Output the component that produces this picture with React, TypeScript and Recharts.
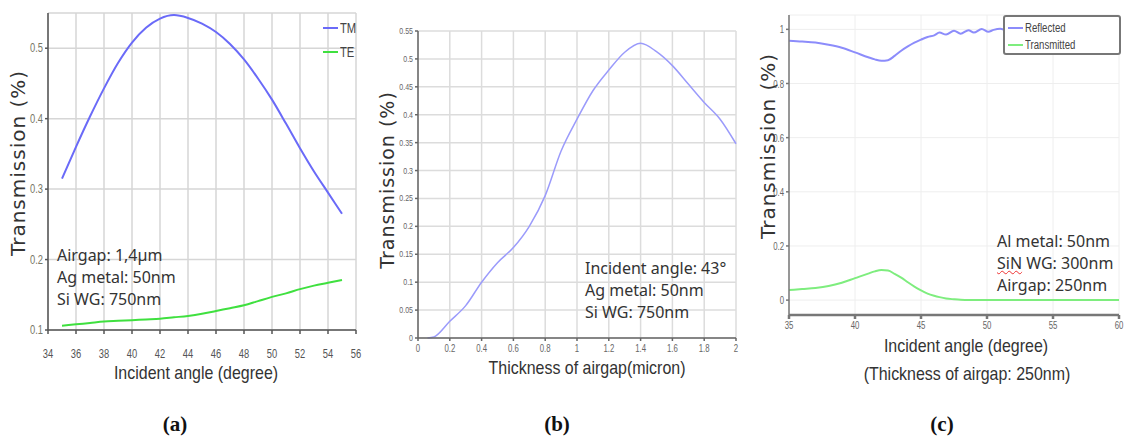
import { LineChart, Line, XAxis, YAxis, CartesianGrid } from "recharts";

// (a) transmission vs incident angle, airgap 1.4um
const angleA = [35, 36, 37, 38, 39, 40, 41, 42, 43, 44, 45, 46, 47, 48, 49, 50, 51, 52, 53, 54, 55];
const tmA = [0.315, 0.36, 0.403, 0.443, 0.479, 0.508, 0.529, 0.542, 0.547, 0.543, 0.535, 0.523, 0.506, 0.484, 0.457, 0.427, 0.393, 0.358, 0.325, 0.295, 0.265];
const teA = [0.106, 0.108, 0.11, 0.112, 0.113, 0.114, 0.115, 0.116, 0.118, 0.12, 0.123, 0.127, 0.131, 0.135, 0.141, 0.147, 0.152, 0.158, 0.163, 0.167, 0.171];
const ticksAX = [34, 36, 38, 40, 42, 44, 46, 48, 50, 52, 54, 56];
const ticksAY = [0.1, 0.2, 0.3, 0.4, 0.5];

// (b) transmission vs airgap thickness
const thickB = [0.06, 0.1, 0.2, 0.3, 0.4, 0.5, 0.6, 0.7, 0.8, 0.9, 1.0, 1.1, 1.2, 1.3, 1.4, 1.5, 1.6, 1.7, 1.8, 1.9, 2.0];
const transB = [0, 0.002, 0.03, 0.058, 0.1, 0.135, 0.162, 0.2, 0.255, 0.335, 0.392, 0.443, 0.48, 0.512, 0.528, 0.513, 0.488, 0.455, 0.422, 0.392, 0.348];
const ticksBX = [0, 0.2, 0.4, 0.6, 0.8, 1, 1.2, 1.4, 1.6, 1.8, 2];
const ticksBY = [0, 0.05, 0.1, 0.15, 0.2, 0.25, 0.3, 0.35, 0.4, 0.45, 0.5, 0.55];

// (c) reflected / transmitted, airgap 250nm
const angleC = [35, 36, 37, 38, 39, 40, 41, 41.5, 42, 42.5, 43, 43.5, 44, 44.5, 45, 45.5, 46, 46.4, 46.9, 47.5, 48, 48.6, 49, 49.6, 50.1, 50.5, 51, 51.5, 52, 53, 54, 55, 56, 57, 58, 59, 60];
const reflectedC = [0.958, 0.955, 0.951, 0.943, 0.932, 0.915, 0.897, 0.889, 0.884, 0.886, 0.902, 0.921, 0.937, 0.951, 0.962, 0.972, 0.978, 0.988, 0.981, 0.995, 0.984, 0.997, 0.988, 1.001, 0.991, 0.998, 1.002, 0.997, 1.003, 0.999, 1.004, 1.0, 1.004, 1.001, 1.004, 1.001, 1.003];
const transmittedC = [0.037, 0.041, 0.045, 0.052, 0.064, 0.081, 0.098, 0.106, 0.111, 0.109, 0.097, 0.083, 0.066, 0.05, 0.036, 0.024, 0.016, 0.011, 0.006, 0.003, 0.001, 0, 0, 0, 0, 0, 0, 0, 0, 0, 0, 0, 0, 0, 0, 0, 0];
const ticksCX = [35, 40, 45, 50, 55, 60];
const ticksCY = [0, 0.2, 0.4, 0.6, 0.8, 1];

const dataA = angleA.map((a, i) => ({ angle: a, TM: tmA[i], TE: teA[i] }));
const dataB = thickB.map((t, i) => ({ t, T: transB[i] }));
const dataC = angleC.map((a, i) => ({ angle: a, Reflected: reflectedC[i], Transmitted: transmittedC[i] }));

const sans = "'Liberation Sans', Arial, sans-serif";
const labelFont = "'DejaVu Sans', Verdana, sans-serif";
const noteFont = "'Noto Sans', 'DejaVu Sans', sans-serif";

const tmColor = "#6a6af8";
const teColor = "#3fe03f";
const bColor = "#9b9bfb";
const refColor = "#8c8cfb";
const trColor = "#7eed7e";

const abs = (left: number, top: number, extra: any = {}) => ({
  position: "absolute" as const,
  left,
  top,
  transform: "translate(-50%, -50%)",
  whiteSpace: "nowrap" as const,
  ...extra,
});

// narrow-looking tick labels: squeeze a normal font horizontally
const NarrowTick = ({ x, y, payload, anchor, size, fill, dy }: any) => (
  <g transform={`translate(${x},${y}) scale(0.78,1)`}>
    <text textAnchor={anchor} dy={dy} fontSize={size} fill={fill} fontFamily={sans}>
      {payload.value}
    </text>
  </g>
);

function YTitle({ x, y, size = 20 }: { x: number; y: number; size?: number }) {
  return (
    <div
      style={abs(x, y, {
        transform: "translate(-50%, -50%) rotate(-90deg)",
        fontFamily: labelFont,
        fontSize: size,
        letterSpacing: 1,
        color: "#333",
      })}
    >
      Transmission (%)
    </div>
  );
}

function XTitle({ x, y, text }: { x: number; y: number; text: string }) {
  return (
    <div
      style={abs(x, y, {
        transform: "translate(-50%, -50%) scaleX(0.84)",
        fontFamily: sans,
        fontSize: 19,
        lineHeight: "20px",
        color: "#333",
      })}
    >
      {text}
    </div>
  );
}

function Note({ x, y, lines }: { x: number; y: number; lines: any[] }) {
  return (
    <div
      style={{
        position: "absolute",
        left: x,
        top: y,
        fontFamily: noteFont,
        fontSize: 16,
        lineHeight: "22px",
        color: "#333",
        whiteSpace: "nowrap",
      }}
    >
      {lines.map((l, i) => (
        <div key={i}>{l}</div>
      ))}
    </div>
  );
}

function LegendBox({ items, style, gap, size }: { items: { name: string; color: string }[]; style: any; gap: number; size: number }) {
  return (
    <div style={{ position: "absolute", fontFamily: sans, fontSize: size, color: "#444", ...style }}>
      {items.map((it) => (
        <div key={it.name} style={{ display: "flex", alignItems: "center", height: gap }}>
          <span style={{ display: "inline-block", width: 15, height: 2, background: it.color, marginRight: 2 }} />
          <span style={{ display: "inline-block", transform: "scaleX(0.8)", transformOrigin: "left center" }}>{it.name}</span>
        </div>
      ))}
    </div>
  );
}

export default function App() {
  return (
    <div style={{ position: "absolute", left: 0, top: 0, width: 1129, height: 439, background: "#fff", overflow: "hidden" }}>
      {/* (a) */}
      <div style={{ position: "absolute", left: 0, top: 0 }}>
        <LineChart width={370} height={400} data={dataA} margin={{ top: 13, right: 14, left: 0, bottom: 0 }}>
          <CartesianGrid stroke="#d6d6d6" strokeWidth={1.5} />
          <XAxis
            dataKey="angle"
            type="number"
            domain={[34, 56]}
            ticks={ticksAX}
            height={70}
            stroke="#555"
            strokeWidth={1.5}
            tickSize={4}
            tickMargin={14}
            tick={<NarrowTick anchor="middle" size={12} fill="#555" dy={10} />}
          />
          <YAxis
            type="number"
            domain={[0.1, 0.55]}
            ticks={ticksAY}
            width={48}
            stroke="#555"
            strokeWidth={1.5}
            tickSize={3}
            tickMargin={2}
            allowDataOverflow
            tick={<NarrowTick anchor="end" size={12} fill="#776" dy={4} />}
          />
          <Line dataKey="TM" type="monotone" stroke={tmColor} strokeWidth={2} dot={false} isAnimationActive={false} />
          <Line dataKey="TE" type="monotone" stroke={teColor} strokeWidth={2} dot={false} isAnimationActive={false} />
        </LineChart>
      </div>

      {/* (b) */}
      <div style={{ position: "absolute", left: 370, top: 0 }}>
        <LineChart width={380} height={400} data={dataB} margin={{ top: 31, right: 14, left: 0, bottom: 0 }}>
          <CartesianGrid stroke="#dcdcdc" strokeWidth={1.5} />
          <XAxis
            dataKey="t"
            type="number"
            domain={[0, 2]}
            ticks={ticksBX}
            height={62}
            stroke="#666"
            strokeWidth={1.5}
            tickSize={3}
            tickMargin={3}
            tick={<NarrowTick anchor="middle" size={10} fill="#666" dy={8} />}
          />
          <YAxis
            type="number"
            domain={[0, 0.55]}
            ticks={ticksBY}
            width={48}
            stroke="#666"
            strokeWidth={1.5}
            tickSize={3}
            tickMargin={2}
            tick={<NarrowTick anchor="end" size={9} fill="#666" dy={3} />}
          />
          <Line dataKey="T" type="monotone" stroke={bColor} strokeWidth={1.5} dot={false} isAnimationActive={false} />
        </LineChart>
      </div>

      {/* (c) */}
      <div style={{ position: "absolute", left: 750, top: 0 }}>
        <LineChart width={379} height={400} data={dataC} margin={{ top: 15, right: 10, left: 0, bottom: 0 }}>
          <CartesianGrid stroke="#eeeeee" />
          <XAxis
            dataKey="angle"
            type="number"
            domain={[35, 60]}
            ticks={ticksCX}
            height={85}
            stroke="#777"
            strokeWidth={2.5}
            tickSize={4}
            tickMargin={3}
            tick={<NarrowTick anchor="middle" size={10} fill="#666" dy={7} />}
          />
          <YAxis
            type="number"
            domain={[-0.055, 1.053]}
            ticks={ticksCY}
            width={39}
            stroke="#777"
            strokeWidth={1.5}
            tickSize={3}
            tickMargin={2}
            allowDataOverflow
            tick={<NarrowTick anchor="end" size={10} fill="#666" dy={4} />}
          />
          <Line dataKey="Reflected" type="monotone" stroke={refColor} strokeWidth={2} dot={false} isAnimationActive={false} />
          <Line dataKey="Transmitted" type="monotone" stroke={trColor} strokeWidth={2} dot={false} isAnimationActive={false} />
        </LineChart>
      </div>

      {/* legends */}
      <LegendBox
        items={[{ name: "TM", color: tmColor }, { name: "TE", color: teColor }]}
        style={{ left: 323, top: 16, background: "transparent" }}
        gap={24}
        size={14}
      />
      <LegendBox
        items={[{ name: "Reflected", color: refColor }, { name: "Transmitted", color: trColor }]}
        style={{
          left: 1003,
          top: 15,
          width: 118,
          height: 40,
          background: "#fff",
          border: "2px solid #777",
          borderRadius: 3,
          padding: "2px 3px",
          boxSizing: "border-box",
        }}
        gap={17}
        size={12}
      />

      {/* axis titles */}
      <YTitle x={18} y={163} />
      <YTitle x={387} y={180} size={19} />
      <YTitle x={768} y={146} />
      <XTitle x={196} y={373} text="Incident angle (degree)" />
      <XTitle x={587} y={368} text="Thickness of airgap(micron)" />
      <XTitle x={966} y={346} text="Incident angle (degree)" />
      <XTitle x={967} y={374} text="(Thickness of airgap: 250nm)" />

      {/* annotations */}
      <Note x={57} y={244} lines={["Airgap: 1,4µm", "Ag metal: 50nm", "Si WG: 750nm"]} />
      <Note x={585} y={257} lines={["Incident angle: 43°", "Ag metal: 50nm", "Si WG: 750nm"]} />
      <Note
        x={997}
        y={230}
        lines={[
          "Al metal: 50nm",
          <span>
            <span style={{ textDecoration: "underline wavy #e33", textDecorationThickness: 1 }}>SiN</span> WG: 300nm
          </span>,
          "Airgap: 250nm",
        ]}
      />

      {/* panel captions */}
      {["(a)", "(b)", "(c)"].map((c, i) => (
        <div
          key={c}
          style={abs([175, 557, 942][i], 424, {
            fontFamily: "'Liberation Serif', 'Times New Roman', serif",
            fontWeight: "bold",
            fontSize: 21,
            color: "#111",
          })}
        >
          {c}
        </div>
      ))}
    </div>
  );
}
